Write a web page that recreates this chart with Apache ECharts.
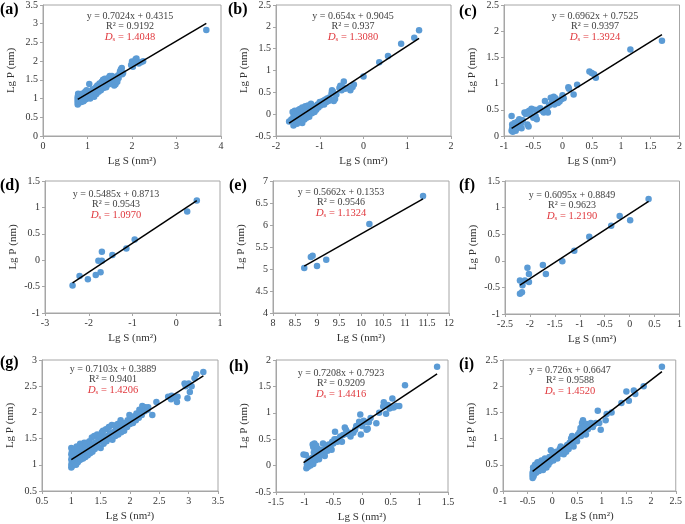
<!DOCTYPE html>
<html><head><meta charset="utf-8">
<script src="https://cdn.jsdelivr.net/npm/echarts/dist/echarts.min.js"></script>
<style>html,body{margin:0;padding:0;background:#fff}#c{width:685px;height:524px}</style>
</head><body><div id="c"></div>
<script>
const panelLabels = ['(a)','(b)','(c)','(d)','(e)','(f)','(g)','(h)','(i)'];
const eqTexts = ['y = 0.7024x + 0.4315','y = 0.654x + 0.9045','y = 0.6962x + 0.7525','y = 0.5485x + 0.8713','y = 0.5662x + 0.1353','y = 0.6095x + 0.8849','y = 0.7103x + 0.3889','y = 0.7208x + 0.7923','y = 0.726x + 0.6647'];
const slopes = [0.7024,0.654,0.6962,0.5485,0.5662,0.6095,0.7103,0.7208,0.726];
const intercepts = [0.4315,0.9045,0.7525,0.8713,0.1353,0.8849,0.3889,0.7923,0.6647];
const r2Texts = ['0.9192','0.937','0.9397','0.9543','0.9546','0.9623','0.9401','0.9209','0.9588'];
const dsTexts = ['1.4048','1.3080','1.3924','1.0970','1.1324','1.2190','1.4206','1.4416','1.4520'];
const xMin = [0,-2,-1,-3,8,-2.5,0.5,-1.5,-1];
const xMax = [4,2,2,1,12,1,3.5,1.5,2.5];
const xStep = [1,1,0.5,1,0.5,0.5,0.5,0.5,0.5];
const yMin = [0,-0.5,0,-1,4,-1,0.5,-0.5,0];
const yMax = [3.5,2.5,2.5,1.5,7,1.5,3,2,2.5];
const yStep = [0.5,0.5,0.5,0.5,0.5,0.5,0.5,0.5,0.5];
const xName = 'Lg S (nm²)';
const yName = 'Lg P (nm)';

const ptsA = [[0.78,0.84],[0.78,0.9],[0.78,0.95],[0.78,1.0],[0.78,1.05],[0.79,1.1],[0.79,1.13],[0.8,0.88],[0.8,0.97],[0.81,1.02],[0.82,0.93],[0.83,1.08],[0.84,0.99],[0.85,1.12],[0.86,0.91],[0.87,1.04],[0.88,0.95],[0.89,1.1],[0.9,1.0],[0.91,0.93],[0.92,1.15],[0.93,1.05],[0.94,0.97],[0.95,1.18],[0.96,1.08],[0.97,0.99],[0.98,1.22],[0.99,1.1],[1.0,1.02],[1.01,1.15],[1.02,1.05],[1.04,1.39],[1.05,1.12],[1.06,1.0],[1.08,1.2],[1.1,1.08],[1.12,1.25],[1.13,1.15],[1.15,1.05],[1.17,1.22],[1.19,1.3],[1.2,1.12],[1.22,1.35],[1.23,1.25],[1.25,1.18],[1.27,1.4],[1.28,1.3],[1.3,1.22],[1.32,1.45],[1.33,1.35],[1.35,1.5],[1.36,1.28],[1.38,1.42],[1.39,1.53],[1.4,1.35],[1.42,1.3],[1.44,1.47],[1.45,1.4],[1.47,1.55],[1.48,1.38],[1.5,1.6],[1.51,1.45],[1.53,1.52],[1.55,1.6],[1.56,1.42],[1.58,1.55],[1.6,1.35],[1.61,1.5],[1.63,1.38],[1.65,1.58],[1.67,1.45],[1.69,1.62],[1.7,1.55],[1.73,1.72],[1.75,1.78],[1.77,1.82],[1.8,1.68],[1.78,1.65],[1.98,1.9],[2.0,1.99],[2.02,1.85],[2.05,1.95],[2.08,2.05],[2.1,2.07],[2.12,1.98],[2.15,1.94],[2.2,1.97],[2.25,2.0],[3.67,2.83]];
const ptsB = [[-1.7,-0.17],[-1.65,-0.12],[-1.62,0.05],[-1.6,-0.05],[-1.6,-0.26],[-1.58,-0.18],[-1.57,0.08],[-1.55,-0.1],[-1.54,0.0],[-1.52,-0.22],[-1.5,0.05],[-1.5,-0.14],[-1.48,0.1],[-1.47,-0.05],[-1.45,0.12],[-1.44,-0.1],[-1.42,0.0],[-1.4,-0.2],[-1.4,0.15],[-1.38,-0.03],[-1.36,0.08],[-1.35,-0.12],[-1.33,0.18],[-1.32,0.02],[-1.3,-0.08],[-1.28,0.12],[-1.27,0.2],[-1.25,0.0],[-1.24,-0.06],[-1.22,0.15],[-1.2,0.08],[-1.2,0.24],[-1.18,0.02],[-1.15,0.12],[-1.12,0.05],[-1.1,0.18],[-1.08,0.1],[-1.05,0.22],[-1.03,0.15],[-1.0,0.28],[-0.98,0.2],[-0.95,0.25],[-0.93,0.3],[-0.9,0.22],[-0.88,0.33],[-0.85,0.28],[-0.83,0.36],[-0.8,0.3],[-0.78,0.38],[-0.75,0.33],[-0.73,0.48],[-0.72,0.55],[-0.7,0.52],[-0.68,0.3],[-0.65,0.35],[-0.62,0.45],[-0.55,0.6],[-0.53,0.65],[-0.5,0.55],[-0.48,0.62],[-0.45,0.75],[-0.42,0.58],[-0.35,0.6],[-0.3,0.55],[-0.25,0.62],[-0.22,0.68],[0.0,0.86],[0.36,1.19],[0.56,1.33],[0.86,1.61],[1.16,1.75],[1.27,1.92]];
const ptsC = [[-0.87,0.38],[-0.87,0.1],[-0.86,0.15],[-0.86,0.22],[-0.85,0.08],[-0.84,0.18],[-0.83,0.12],[-0.82,0.25],[-0.8,0.1],[-0.8,0.2],[-0.78,0.15],[-0.77,0.27],[-0.75,0.22],[-0.74,0.32],[-0.72,0.18],[-0.71,0.25],[-0.7,0.15],[-0.68,0.3],[-0.65,0.45],[-0.63,0.42],[-0.6,0.46],[-0.6,0.22],[-0.58,0.18],[-0.57,0.48],[-0.55,0.42],[-0.53,0.52],[-0.5,0.35],[-0.48,0.5],[-0.46,0.38],[-0.44,0.32],[-0.42,0.5],[-0.38,0.53],[-0.35,0.48],[-0.32,0.45],[-0.3,0.67],[-0.27,0.52],[-0.25,0.45],[-0.23,0.58],[-0.2,0.73],[-0.19,0.62],[-0.17,0.68],[-0.15,0.75],[-0.14,0.6],[-0.12,0.72],[-0.08,0.63],[-0.05,0.66],[-0.02,0.7],[0.0,0.78],[0.02,0.72],[0.1,0.93],[0.11,0.9],[0.19,0.79],[0.25,0.98],[0.46,1.23],[0.5,1.2],[0.54,1.18],[0.57,1.11],[1.16,1.65],[1.7,1.82]];
const ptsD = [[-2.37,-0.48],[-2.21,-0.30],[-2.02,-0.36],[-1.84,-0.28],[-1.78,-0.01],[-1.70,-0.01],[-1.73,-0.23],[-1.70,0.16],[-1.46,0.10],[-1.14,0.22],[-0.95,0.39],[0.25,0.92],[0.47,1.13]];
const ptsE = [[8.71,5.02],[8.86,5.27],[8.90,5.30],[9.00,5.07],[9.21,5.21],[10.19,6.02],[11.41,6.66]];
const ptsF = [[-2.20,-0.37],[-2.20,-0.62],[-2.16,-0.59],[-2.15,-0.46],[-2.10,-0.37],[-2.05,-0.13],[-2.02,-0.25],[-2.02,-0.40],[-1.74,-0.08],[-1.68,-0.25],[-1.35,-0.01],[-1.11,0.19],[-0.81,0.45],[-0.37,0.66],[-0.20,0.84],[0.01,0.76],[0.38,1.16]];
const ptsG = [[1.00,0.95],[1.00,1.00],[1.01,1.05],[1.00,1.10],[1.01,1.15],[1.00,1.20],[1.01,1.25],[1.00,1.32],[1.02,0.98],[1.03,1.08],[1.02,1.18],[1.03,1.28],[1.05,1.02],[1.06,1.12],[1.05,1.22],[1.06,1.30],[1.08,1.00],[1.09,1.10],[1.08,1.20],[1.09,1.35],[1.11,1.05],[1.10,1.15],[1.11,1.25],[1.13,1.08],[1.14,1.18],[1.13,1.30],[1.15,1.40],[1.16,1.10],[1.17,1.20],[1.16,1.32],[1.20,1.12],[1.21,1.22],[1.19,1.35],[1.22,1.42],[1.24,1.15],[1.25,1.28],[1.24,1.38],[1.28,1.18],[1.29,1.30],[1.27,1.42],[1.32,1.22],[1.33,1.35],[1.31,1.45],[1.36,1.25],[1.37,1.38],[1.35,1.52],[1.40,1.30],[1.41,1.42],[1.39,1.55],[1.45,1.35],[1.46,1.48],[1.44,1.58],[1.50,1.32],[1.51,1.45],[1.49,1.55],[1.52,1.62],[1.55,1.40],[1.56,1.52],[1.54,1.65],[1.60,1.45],[1.61,1.55],[1.59,1.68],[1.65,1.50],[1.66,1.60],[1.64,1.72],[1.70,1.48],[1.71,1.62],[1.69,1.76],[1.75,1.55],[1.76,1.68],[1.74,1.75],[1.80,1.58],[1.81,1.70],[1.79,1.78],[1.85,1.62],[1.86,1.75],[1.84,1.85],[1.90,1.65],[1.91,1.80],[1.95,1.72],[1.96,1.85],[2.00,1.78],[2.01,1.88],[1.99,1.95],[2.05,1.80],[2.06,1.92],[2.10,1.85],[2.11,1.98],[2.15,1.90],[2.16,2.05],[2.20,1.95],[2.21,2.12],[2.25,2.02],[2.26,2.10],[2.30,2.05],[2.31,2.10],[2.38,1.95],[2.45,2.20],[2.65,2.30],[2.70,2.25],[2.71,2.32],[2.75,2.28],[2.80,2.20],[2.81,2.30],[2.93,2.55],[2.95,2.50],[2.98,2.27],[3.00,2.55],[3.02,2.39],[3.05,2.50],[3.10,2.65],[3.13,2.73],[3.25,2.77]];
const ptsH = [[-1.02,0.21],[-0.98,0.20],[-0.97,-0.05],[-0.96,0.02],[-0.95,0.08],[-0.94,-0.02],[-0.93,0.05],[-0.92,0.12],[-0.90,0.10],[-0.90,0.00],[-0.88,0.06],[-0.87,0.15],[-0.86,0.40],[-0.85,0.35],[-0.85,0.03],[-0.84,0.25],[-0.83,0.42],[-0.82,0.30],[-0.81,0.10],[-0.80,0.25],[-0.80,0.38],[-0.78,0.15],[-0.77,0.32],[-0.75,0.12],[-0.74,0.28],[-0.72,0.20],[-0.70,0.30],[-0.68,0.42],[-0.66,0.22],[-0.65,0.18],[-0.63,0.35],[-0.60,0.28],[-0.58,0.40],[-0.55,0.35],[-0.53,0.30],[-0.52,0.45],[-0.50,0.42],[-0.48,0.50],[-0.47,0.64],[-0.45,0.50],[-0.43,0.45],[-0.40,0.50],[-0.38,0.55],[-0.35,0.45],[-0.33,0.58],[-0.30,0.72],[-0.28,0.68],[-0.25,0.60],[-0.22,0.62],[-0.20,0.55],[-0.15,0.62],[-0.12,0.68],[-0.10,0.75],[-0.05,0.83],[-0.04,0.80],[-0.03,0.97],[-0.02,0.59],[0.00,0.75],[0.03,0.85],[0.05,0.82],[0.08,0.68],[0.10,0.70],[0.12,0.82],[0.15,0.90],[0.25,0.80],[0.30,1.00],[0.37,1.12],[0.38,1.20],[0.42,0.98],[0.45,1.15],[0.48,1.08],[0.50,1.10],[0.53,1.27],[0.55,1.10],[0.60,1.13],[0.65,1.13],[0.75,1.52],[1.31,1.87]];
const ptsI = [[-0.40,0.25],[-0.40,0.30],[-0.40,0.35],[-0.39,0.40],[-0.39,0.45],[-0.38,0.28],[-0.37,0.33],[-0.36,0.42],[-0.35,0.38],[-0.35,0.50],[-0.33,0.35],[-0.32,0.45],[-0.30,0.40],[-0.30,0.55],[-0.28,0.48],[-0.27,0.38],[-0.25,0.52],[-0.24,0.43],[-0.22,0.58],[-0.20,0.48],[-0.19,0.40],[-0.18,0.55],[-0.16,0.45],[-0.15,0.62],[-0.13,0.52],[-0.12,0.45],[-0.10,0.58],[-0.08,0.50],[-0.06,0.65],[-0.05,0.55],[-0.03,0.78],[-0.02,0.62],[0.00,0.68],[0.02,0.58],[0.04,0.72],[0.06,0.65],[0.08,0.75],[0.10,0.62],[0.12,0.70],[0.15,0.80],[0.17,0.85],[0.18,0.72],[0.20,0.78],[0.23,0.70],[0.25,0.82],[0.28,0.75],[0.30,0.88],[0.33,0.80],[0.35,0.92],[0.38,1.00],[0.40,1.05],[0.41,0.92],[0.43,0.85],[0.45,0.98],[0.48,1.00],[0.50,0.95],[0.52,1.08],[0.55,1.12],[0.57,1.20],[0.58,1.05],[0.60,1.30],[0.62,1.35],[0.63,1.15],[0.65,1.22],[0.68,1.08],[0.70,1.28],[0.72,1.18],[0.75,1.25],[0.78,1.30],[0.82,1.22],[0.85,1.28],[0.88,1.30],[0.92,1.53],[0.95,1.30],[0.98,1.17],[1.08,1.35],[1.10,1.47],[1.20,1.50],[1.40,1.68],[1.50,1.90],[1.55,1.72],[1.65,1.92],[1.68,1.85],[1.85,2.00],[2.22,2.37]];
const allPts = [ptsA,ptsB,ptsC,ptsD,ptsE,ptsF,ptsG,ptsH,ptsI];

// layout (pixels)
const gridRects = [[43,5,178,131],[276,5,175,131],[504,5,177,131],[45,181,175,132],[273,181,176,132],[505,181,177,133],[42,360,176,131],[276,360,172,132],[503,360,178,131]];
const eqPos = [[130,16],[353,16],[595,16],[116,194],[341,192],[572,195],[113,369],[341,373],[570,370]];
const labPos = [[0,10],[228,10],[459,12],[0,186],[229,186],[459,186],[0,363],[229,367],[459,365]];

const FF = '"Liberation Serif","Times New Roman",serif';
const axisCol = '#a6a6a6';
const option = {animation:false, backgroundColor:'#fff', grid:[], xAxis:[], yAxis:[], series:[], graphic:[]};
for (let i=0;i<9;i++){
  const [l,t,w,h] = gridRects[i];
  option.grid.push({left:l, top:t, width:w, height:h, show:true, borderColor:axisCol, borderWidth:1, backgroundColor:'transparent'});
  option.xAxis.push({gridIndex:i, type:'value', min:xMin[i], max:xMax[i], interval:xStep[i],
    name:xName, nameLocation:'middle', nameGap:20, nameTextStyle:{fontFamily:FF, fontSize:11, color:'#333'},
    axisLine:{show:true, onZero:false, lineStyle:{color:axisCol}}, axisTick:{show:true, length:3, lineStyle:{color:axisCol}},
    axisLabel:{fontFamily:FF, fontSize:10, color:'#333', margin:5}, splitLine:{show:false}});
  option.yAxis.push({gridIndex:i, type:'value', min:yMin[i], max:yMax[i], interval:yStep[i],
    name:yName, nameLocation:'middle', nameGap:26, nameTextStyle:{fontFamily:FF, fontSize:11, color:'#333'},
    axisLine:{show:true, onZero:false, lineStyle:{color:axisCol}}, axisTick:{show:true, length:3, lineStyle:{color:axisCol}},
    axisLabel:{fontFamily:FF, fontSize:10, color:'#333', margin:5}, splitLine:{show:false}});
  const pts = allPts[i];
  option.series.push({type:'scatter', xAxisIndex:i, yAxisIndex:i, data:pts, symbolSize:6.5, itemStyle:{color:'#5b9bd5', opacity:1}, z:2});
  const xs = pts.map(p=>p[0]);
  const x0 = Math.min(...xs), x1 = Math.max(...xs);
  option.series.push({type:'line', xAxisIndex:i, yAxisIndex:i, showSymbol:false, symbol:'none',
    data:[[x0, slopes[i]*x0+intercepts[i]],[x1, slopes[i]*x1+intercepts[i]]], lineStyle:{color:'#000', width:1.5}, z:3});
  const [cx,cy] = eqPos[i];
  option.graphic.push({type:'text', x:cx, y:cy, z:10, style:{text:eqTexts[i], textAlign:'center', textVerticalAlign:'middle', font:'10px '+FF, fill:'#404040'}});
  option.graphic.push({type:'text', x:cx, y:cy+10, z:10, style:{text:'R² = '+r2Texts[i], textAlign:'center', textVerticalAlign:'middle', font:'10px '+FF, fill:'#404040'}});
  option.graphic.push({type:'text', x:cx, y:cy+21, z:10, style:{text:'{d|D}{s|s}{n| = '+dsTexts[i]+'}', textAlign:'center', textVerticalAlign:'middle',
    rich:{d:{fontFamily:FF, fontSize:11, fontStyle:'italic', fill:'#e0393e', verticalAlign:'bottom'},
          s:{fontFamily:FF, fontSize:7, fill:'#e0393e', verticalAlign:'bottom', padding:[4,0,0,0]},
          n:{fontFamily:FF, fontSize:10.5, fill:'#e0393e', verticalAlign:'bottom'}}}});
  const [lx,ly] = labPos[i];
  option.graphic.push({type:'text', x:lx, y:ly, z:10, style:{text:panelLabels[i], textAlign:'left', textVerticalAlign:'middle', font:'bold 16px '+FF, fill:'#000'}});
}
const chart = echarts.init(document.getElementById('c'), null, {renderer:'canvas'});
chart.setOption(option);
</script></body></html>
